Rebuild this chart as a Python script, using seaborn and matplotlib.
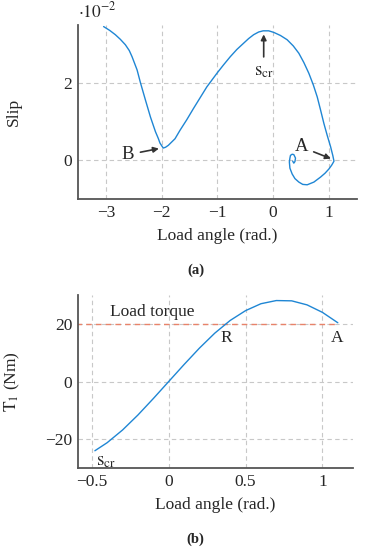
import numpy as np
import pandas as pd
import matplotlib
matplotlib.use('Agg')
import matplotlib.pyplot as plt
import seaborn as sns

# (a) slip vs load angle, slip in units of 1e-2
angle_a = [-3.04, -2.93, -2.83, -2.74, -2.65, -2.58, -2.53, -2.44, -2.38, -2.29,
           -2.20, -2.11, -2.06, -2.03, -1.99, -1.97, -1.93, -1.88, -1.76, -1.67,
           -1.55, -1.43, -1.31, -1.19, -1.01, -0.89, -0.77, -0.65, -0.53, -0.44,
           -0.35, -0.26, -0.18, -0.08, 0.01, 0.13, 0.25, 0.36, 0.46, 0.55,
           0.64, 0.72, 0.79, 0.85, 0.91, 0.97, 1.03, 1.07, 1.09,
           1.05, 1.0, 0.93, 0.85, 0.73, 0.61, 0.53, 0.46, 0.39, 0.34,
           0.30, 0.29, 0.30, 0.31, 0.34, 0.37, 0.40, 0.39, 0.37, 0.35]
slip_a = [3.46, 3.36, 3.25, 3.13, 2.99, 2.84, 2.68, 2.34, 2.01, 1.56,
          1.12, 0.74, 0.57, 0.45, 0.36, 0.32, 0.34, 0.39, 0.56, 0.78,
          1.05, 1.34, 1.62, 1.90, 2.25, 2.47, 2.68, 2.87, 3.03, 3.15,
          3.25, 3.32, 3.35, 3.35, 3.31, 3.23, 3.12, 2.96, 2.77, 2.53,
          2.25, 1.95, 1.64, 1.30, 0.95, 0.64, 0.35, 0.12, -0.02,
          -0.12, -0.22, -0.33, -0.43, -0.56, -0.63, -0.62, -0.56, -0.47, -0.35,
          -0.2, -0.04, 0.06, 0.13, 0.16, 0.15, 0.06, -0.03, -0.07, -0.02]

# (b) torque vs load angle
angle_b = [-0.48, -0.4, -0.3, -0.2, -0.1, 0.0, 0.1, 0.2, 0.3, 0.4,
           0.5, 0.6, 0.7, 0.8, 0.9, 1.0, 1.1]
torque_b = [-24.0, -21.2, -16.8, -11.6, -5.9, 0.0, 5.9, 11.6, 16.8, 21.2,
            24.6, 27.0, 28.1, 28.0, 26.6, 24.0, 20.4]
load_torque_x = [-0.6, 1.1]
load_torque_y = [20, 20]

df_a = pd.DataFrame({'angle': angle_a, 'slip': slip_a})
df_b = pd.DataFrame({'angle': angle_b, 'torque': torque_b})

sns.set_style('white')
plt.rcParams['font.family'] = ['Liberation Serif', 'DejaVu Serif']
plt.rcParams['mathtext.fontset'] = 'stix'

fs = 12.5
blue = '#1f86d4'
red = '#e8836a'
spine = '#555555'
arrow_kw = dict(arrowstyle='-|>', color='#333333', lw=1.2, mutation_scale=8)

fig = plt.figure(figsize=(3.66, 5.5), dpi=100)
ax1 = fig.add_axes([0.213, 0.638, 0.762, 0.3165])
ax2 = fig.add_axes([0.213, 0.149, 0.752, 0.3145])

for ax in (ax1, ax2):
    ax.grid(True, linestyle=(0, (4, 3)), color='#c8c8c8', linewidth=0.8)
    for s in ('top', 'right'):
        ax.spines[s].set_visible(False)
    for s in ('left', 'bottom'):
        ax.spines[s].set_color(spine)
        ax.spines[s].set_linewidth(1.3)
    ax.tick_params(length=0, labelsize=fs, pad=4)

# (a)
sns.lineplot(data=df_a, x='angle', y='slip', ax=ax1, sort=False, color=blue,
             linewidth=1.0, estimator=None)
ax1.set_xlim(-3.5, 1.5)
ax1.set_ylim(-1, 3.5)
ax1.set_xticks([-3, -2, -1, 0, 1])
ax1.set_yticks([0, 2])
ax1.set_xticklabels(['\u22123', '\u22122', '\u22121', '0', '1'])
ax1.set_xlabel('Load angle (rad.)', fontsize=fs, labelpad=5)
ax1.set_ylabel('Slip', fontsize=fs)
ax1.yaxis.set_label_coords(-0.2, 0.5)
ax1.text(0.0, 1.02, r'$\cdot 10^{-2}$', transform=ax1.transAxes, fontsize=fs,
         ha='left', va='bottom')
ax1.annotate(r'$\mathrm{s}_{\mathrm{cr}}$', xy=(-0.17, 3.33), xytext=(-0.17, 2.3),
             ha='center', va='center', fontsize=13.5, arrowprops=arrow_kw)
ax1.annotate('B', xy=(-2.0, 0.32), xytext=(-2.6, 0.15),
             ha='center', va='center', fontsize=13.5, arrowprops=arrow_kw)
ax1.annotate('A', xy=(1.08, 0.02), xytext=(0.5, 0.35),
             ha='center', va='center', fontsize=13.5, arrowprops=arrow_kw)
fig.text(0.535, 0.508, '(a)', ha='center', va='center', fontsize=10.5, fontweight='bold')

# (b)
sns.lineplot(x=load_torque_x, y=load_torque_y, ax=ax2, color=red,
             linewidth=1.0, linestyle=(0, (4, 3)))
sns.lineplot(data=df_b, x='angle', y='torque', ax=ax2, sort=False, color=blue,
             linewidth=1.0, estimator=None)
ax2.set_xlim(-0.59, 1.2)
ax2.set_ylim(-30, 30)
ax2.set_xticks([-0.5, 0, 0.5, 1])
ax2.set_xticklabels(['\u22120.5', '0', '0.5', '1'])
ax2.set_yticks([-20, 0, 20])
ax2.set_yticklabels(['\u221220', '0', '20'])
ax2.set_xlabel('Load angle (rad.)', fontsize=fs, labelpad=5)
ax2.set_ylabel(r'$\mathrm{T}_1$ (Nm)', fontsize=fs)
ax2.yaxis.set_label_coords(-0.204, 0.5)
ax2.text(-0.38, 24, 'Load torque', fontsize=fs, ha='left', va='center')
ax2.text(0.375, 15.2, 'R', fontsize=fs, ha='center', va='center')
ax2.text(1.095, 15.2, 'A', fontsize=fs, ha='center', va='center')
ax2.text(-0.41, -27.7, r'$\mathrm{s}_{\mathrm{cr}}$', fontsize=13.5, ha='center', va='center')
fig.text(0.535, 0.02, '(b)', ha='center', va='center', fontsize=10.5, fontweight='bold')

plt.savefig('out.png', dpi=100)
